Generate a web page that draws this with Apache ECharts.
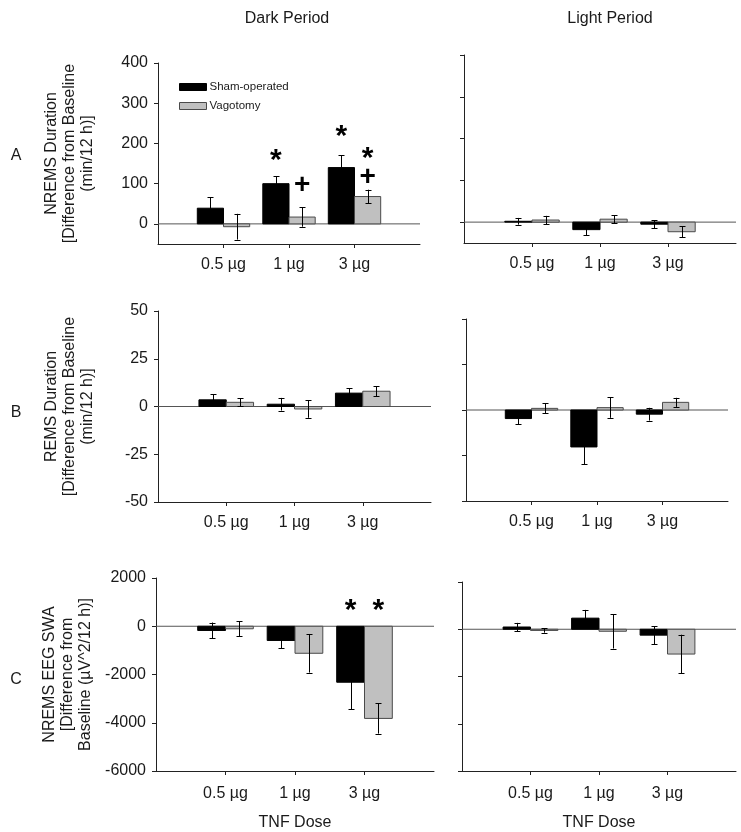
<!DOCTYPE html>
<html>
<head>
<meta charset="utf-8">
<script src="https://cdn.jsdelivr.net/npm/echarts@6/dist/echarts.min.js"></script>
<style>html,body{margin:0;padding:0;background:#fff}#c{width:741px;height:832px}</style>
</head>
<body>
<div id="c"></div>
<script>
// ---- data ----
const doses = ['0.5 µg', '1 µg', '3 µg'];
const doseX = [1, 2, 3];
const seriesNames = ['Sham-operated', 'Vagotomy'];
const columnTitles = ['Dark Period', 'Light Period'];
const panelLetters = ['A', 'B', 'C'];
const xAxisTitle = 'TNF Dose';
const yTitles = [
  'NREMS Duration\n[Difference from Baseline\n(min/12 h)]',
  'REMS Duration\n[Difference from Baseline\n(min/12 h)]',
  'NREMS EEG SWA\n[Difference from\nBaseline (µV^2/12 h)]'
];
const yTicksA = [0, 100, 200, 300, 400];
const yTicksB = [-50, -25, 0, 25, 50];
const yTicksC = [-6000, -4000, -2000, 0, 2000];

const nremsDarkSham = [39, 100, 140],  nremsDarkShamErr = [27, 18, 31];
const nremsDarkVago = [-7, 17, 68],    nremsDarkVagoErr = [32, 24, 17];
const nremsLightSham = [2, -18, -5],   nremsLightShamErr = [8, 13, 10];
const nremsLightVago = [5, 7, -23],    nremsLightVagoErr = [10, 10, 13];

const remsDarkSham = [3.5, 1.2, 7],    remsDarkShamErr = [3, 3.3, 2.6];
const remsDarkVago = [2.2, -1.3, 8],   remsDarkVagoErr = [2, 4.6, 2.6];
const remsLightSham = [-4.7, -20.3, -2.3], remsLightShamErr = [3, 9.5, 3.5];
const remsLightVago = [0.9, 1.3, 4.2], remsLightVagoErr = [2.7, 5.6, 2.5];

const swaDarkSham = [-175, -590, -2320],  swaDarkShamErr = [330, 330, 1130];
const swaDarkVago = [-105, -1120, -3820], swaDarkVagoErr = [310, 800, 630];
const swaLightSham = [95, 470, -250],     swaLightShamErr = [175, 350, 380];
const swaLightVago = [-50, -85, -1050],   swaLightVagoErr = [95, 730, 820];

// significance marks: [x position, y value, symbol]
const marksNremsDark = [[1.8, 175, '*'], [2.2, 97, '+'], [2.8, 233, '*'], [3.2, 179, '*'], [3.2, 117, '+']];
const marksSwaDark = [[2.8, 935, '*'], [3.2, 935, '*']];

// ---- layout ----
const FONT = 'Arial, "Liberation Sans", sans-serif';
const TXT = '#1a1a1a';
const grids = [
  {left: 158, top: 63, width: 262, height: 181},
  {left: 464, top: 55, width: 272, height: 188},
  {left: 158, top: 311, width: 273, height: 191},
  {left: 466, top: 319, width: 262, height: 182},
  {left: 156, top: 578, width: 278, height: 194},
  {left: 462, top: 582, width: 274, height: 190}
];
const yRanges = [[-50, 400, yTicksA], [-50, 400, yTicksA], [-50, 50, yTicksB], [-50, 50, yTicksB], [-6000, 2000, yTicksC], [-6000, 2000, yTicksC]];
const panels = [
  [nremsDarkSham, nremsDarkShamErr, nremsDarkVago, nremsDarkVagoErr, marksNremsDark],
  [nremsLightSham, nremsLightShamErr, nremsLightVago, nremsLightVagoErr, []],
  [remsDarkSham, remsDarkShamErr, remsDarkVago, remsDarkVagoErr, []],
  [remsLightSham, remsLightShamErr, remsLightVago, remsLightVagoErr, []],
  [swaDarkSham, swaDarkShamErr, swaDarkVago, swaDarkVagoErr, marksSwaDark],
  [swaLightSham, swaLightShamErr, swaLightVago, swaLightVagoErr, []]
];
const BW = 0.4;
const barStyles = [
  {fill: '#000000', stroke: '#000000'},
  {fill: '#c0c0c0', stroke: '#4a4a4a'}
];

const xAxes = [], yAxes = [], series = [];
grids.forEach((g, i) => {
  const isLeft = i % 2 === 0;
  const isBottom = i >= 4;
  const labelMargin = i < 4 ? 13 : 15;
  xAxes.push({
    type: 'value', gridIndex: i, min: 0, max: 4, interval: 1,
    axisLine: {show: true, onZero: false, lineStyle: {color: '#222', width: 1}},
    axisTick: {show: true, length: 4, customValues: doseX, lineStyle: {color: '#222'}},
    axisLabel: {customValues: doseX, margin: labelMargin, fontSize: 16, color: TXT, fontFamily: FONT,
      formatter: v => { const k = doseX.indexOf(v); return k >= 0 ? doses[k] : ''; }},
    splitLine: {show: false},
    name: isBottom ? xAxisTitle : '', nameLocation: 'middle', nameGap: 44,
    nameTextStyle: {fontSize: 16, color: TXT, fontFamily: FONT}
  });
  const [mn, mx, tks] = yRanges[i];
  yAxes.push({
    type: 'value', gridIndex: i, min: mn, max: mx,
    axisLine: {show: true, onZero: false, lineStyle: {color: '#222', width: 1}},
    axisTick: {show: true, length: 4, customValues: tks, lineStyle: {color: '#222'}},
    axisLabel: {show: isLeft, customValues: tks, margin: 10, fontSize: 16, color: TXT, fontFamily: FONT,
      formatter: v => String(v)},
    splitLine: {show: false},
    name: isLeft ? yTitles[i / 2] : '', nameLocation: 'middle', nameGap: 61, nameRotate: 90,
    nameTextStyle: {fontSize: 16, lineHeight: 18, color: TXT, fontFamily: FONT, align: 'center'}
  });

  const [s, se, v, ve, marks] = panels[i];
  // zero line
  series.push({
    type: 'line', xAxisIndex: i, yAxisIndex: i, data: [[0, 0], [4, 0]], symbol: 'none', silent: true,
    lineStyle: {color: '#555', width: 1}, z: 1
  });
  [[s, se], [v, ve]].forEach(([vals, errs], k) => {
    const off = k === 0 ? -BW : 0;
    series.push({
      type: 'custom', name: seriesNames[k], xAxisIndex: i, yAxisIndex: i,
      itemStyle: {color: barStyles[k].fill, borderColor: barStyles[k].stroke, borderWidth: 1},
      data: vals.map((y, j) => [doseX[j], y]),
      z: 2,
      renderItem: (params, api) => {
        const x = api.value(0), y = api.value(1);
        const a = api.coord([x + off, 0]);
        const b = api.coord([x + off + BW, y]);
        return {type: 'rect',
          shape: {x: Math.min(a[0], b[0]), y: Math.min(a[1], b[1]), width: Math.abs(b[0] - a[0]), height: Math.abs(b[1] - a[1])},
          style: {fill: barStyles[k].fill, stroke: barStyles[k].stroke, lineWidth: 1}};
      }
    });
    series.push({
      type: 'custom', xAxisIndex: i, yAxisIndex: i, silent: true, z: 3,
      data: vals.map((y, j) => [doseX[j], y, errs[j]]),
      renderItem: (params, api) => {
        const x = api.value(0) + off + BW / 2, y = api.value(1), e = api.value(2);
        const hi = api.coord([x, y + e]), lo = api.coord([x, y - e]);
        const cx = Math.round(hi[0]) + 0.5, cap = 3;
        const st = {stroke: '#000', lineWidth: 1};
        return {type: 'group', children: [
          {type: 'line', shape: {x1: cx, y1: hi[1], x2: cx, y2: lo[1]}, style: st},
          {type: 'line', shape: {x1: cx - cap, y1: Math.round(hi[1]) + 0.5, x2: cx + cap, y2: Math.round(hi[1]) + 0.5}, style: st},
          {type: 'line', shape: {x1: cx - cap, y1: Math.round(lo[1]) + 0.5, x2: cx + cap, y2: Math.round(lo[1]) + 0.5}, style: st}
        ]};
      }
    });
  });
  if (marks.length) {
    series.push({
      type: 'custom', xAxisIndex: i, yAxisIndex: i, silent: true, z: 4,
      data: marks,
      renderItem: (params, api) => {
        const p = api.coord([api.value(0), api.value(1)]);
        const t = marks[params.dataIndex][2];
        const star = t === '*';
        return {type: 'text', x: p[0], y: p[1] + (star ? 7 : 0),
          style: {text: t, fill: '#000', font: 'bold ' + (star ? 30 : 28) + 'px ' + FONT, align: 'center', verticalAlign: 'middle'}};
      }
    });
  }
});

const titles = [
  {text: columnTitles[0], left: 282, top: 6, textAlign: 'center'},
  {text: columnTitles[1], left: 605, top: 6, textAlign: 'center'},
  {text: panelLetters[0], left: 11, top: 143, textAlign: 'center'},
  {text: panelLetters[1], left: 11, top: 400, textAlign: 'center'},
  {text: panelLetters[2], left: 11, top: 667, textAlign: 'center'}
].map(t => Object.assign(t, {textStyle: {fontSize: 16, fontWeight: 'normal', color: TXT, fontFamily: FONT}}));

const chart = echarts.init(document.getElementById('c'), null, {renderer: 'canvas'});
chart.setOption({
  animation: false,
  backgroundColor: '#fff',
  title: titles,
  legend: {
    data: [
      {name: seriesNames[0], icon: 'rect', itemStyle: {color: '#000', borderColor: '#000', borderWidth: 1}},
      {name: seriesNames[1], icon: 'rect', itemStyle: {color: '#c0c0c0', borderColor: '#4a4a4a', borderWidth: 1}}
    ],
    orient: 'vertical', left: 174, top: 76, itemWidth: 27, itemHeight: 7, itemGap: 7,
    textStyle: {fontSize: 11.5, color: TXT, fontFamily: FONT, padding: [0, 0, 0, -2]},
    selectedMode: false
  },
  grid: grids,
  xAxis: xAxes,
  yAxis: yAxes,
  series: series
});
</script>
</body>
</html>
